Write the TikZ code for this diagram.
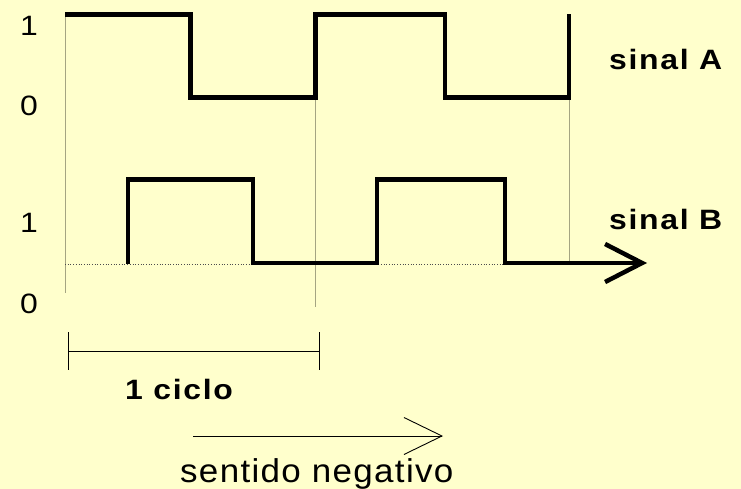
\documentclass[tikz,border=0pt]{standalone}
\usepackage{fontspec}
\setmainfont{Liberation Sans}[FakeStretch=1.14, LetterSpace=6]
\newfontfamily\dirfont{Liberation Sans}[FakeStretch=1.06, LetterSpace=4]
\usetikzlibrary{arrows.meta}
\definecolor{paper}{RGB}{255,255,204}
\definecolor{guide}{RGB}{165,165,130}
\tikzset{
  wave/.style={line width=4.5pt, line join=miter},
  guideline/.style={draw=guide, line width=0.9pt},
  level/.style={inner sep=0pt, anchor=base, font=\fontsize{28}{32}\selectfont},
  siglabel/.style={inner sep=0pt, anchor=base west, font=\fontsize{28}{32}\selectfont\bfseries},
}

\begin{document}
\begin{tikzpicture}[x=1pt, y=-1pt]
  \fill[paper] (0,0) rectangle (741,489);

  % guide lines
  \draw[guideline] (65,15) -- (65,293);
  \draw[guideline] (315,98) -- (315,307);
  \draw[guideline] (569,98) -- (569,263);
  \draw[dotted, line width=0.7pt, black!70] (65,264.5) -- (505,264.5);

  % signal A
  \draw[wave] (65,14.5) -| (190.5,97.5) -| (315.5,14.5) -| (445,97.5) -| (569,14);
  % signal B
  \draw[wave, -{Straight Barb[length=37pt, width=38pt]}]
    (128,264) |- (253,179.5) |- (377,263) |- (505,179.5) |- (647,263);

  % levels
  \node[level] (a1) at (29,36) {1};
  \node[level] (a0) at (29,115.5) {0};
  \node[level] (b1) at (29,232) {1};
  \node[level] (b0) at (29,313) {0};
  \node[siglabel] (sa) at (609,69.5) {sinal A};
  \node[siglabel] (sb) at (609,229) {sinal B};

  % one cycle
  \coordinate (cycL) at (68,351);
  \coordinate (cycR) at (319,351);
  \draw[line width=0.9pt] (cycL) -- (cycR);
  \draw[line width=0.9pt] (68,332) -- (68,370);
  \draw[line width=0.9pt] (319,332) -- (319,370);
  \node[siglabel] (cyc) at (125,399) {1 ciclo};

  % direction
  \coordinate (dirL) at (193,436);
  \coordinate (dirR) at (443,436);
  \draw[line width=0.9pt, -{Straight Barb[length=38pt, width=37pt]}] (dirL) -- (dirR);
  \node[inner sep=0pt, anchor=base west, font=\dirfont\fontsize{33}{36}\selectfont]
    (dir) at (180,482) {sentido negativo};
\end{tikzpicture}
\end{document}
